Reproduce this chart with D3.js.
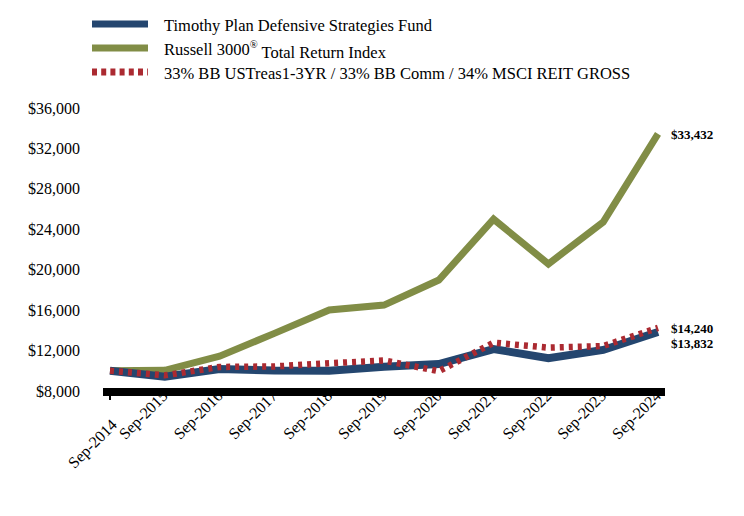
<!DOCTYPE html>
<html>
<head>
<meta charset="utf-8">
<script src="https://cdn.jsdelivr.net/npm/d3@7"></script>
<style>
  html, body { margin: 0; padding: 0; background: #fff; }
  svg text { font-family: "Liberation Serif", "Times New Roman", serif; }
</style>
</head>
<body>
<div id="chart"></div>
<script>
const categories = ["Sep-2014","Sep-2015","Sep-2016","Sep-2017","Sep-2018","Sep-2019","Sep-2020","Sep-2021","Sep-2022","Sep-2023","Sep-2024"];
const fundValues = [10000, 9420, 10170, 10020, 10010, 10400, 10660, 12150, 11240, 12060, 13832];
const russellValues = [10000, 10050, 11450, 13700, 16010, 16500, 18980, 25000, 20570, 24720, 33432];
const blendValues = [10000, 9550, 10380, 10430, 10740, 11020, 9960, 12780, 12290, 12450, 14240];
const yTicks = [8000, 12000, 16000, 20000, 24000, 28000, 32000, 36000];
const seriesNames = ["Timothy Plan Defensive Strategies Fund", "Russell 3000", "33% BB USTreas1-3YR / 33% BB Comm / 34% MSCI REIT GROSS"];
const endLabels = ["$13,832", "$33,432", "$14,240"];

const W = 744, H = 516;
const svg = d3.select("#chart").append("svg").attr("width", W).attr("height", H);

const x = d3.scalePoint().domain(categories).range([110, 658]);
const y = d3.scaleLinear().domain([8000, 36000]).range([391, 108]);

const colors = { fund: "#24466f", russell: "#818d46", blend: "#ab2a31" };

// y axis labels
const fmt = v => "$" + d3.format(",")(v);
svg.append("g").selectAll("text").data(yTicks).join("text")
  .attr("x", 80).attr("y", d => y(d)).attr("dy", "0.35em")
  .attr("text-anchor", "end").attr("font-size", 16).attr("fill", "#000")
  .text(fmt);

// x labels (drawn before axis bar, as in reference)
const xl = svg.append("g");
categories.forEach((c, i) => {
  const px = x(c);
  let tx, ty;
  if (i === 0) { tx = px + 4; ty = 422; }
  else { tx = px; ty = 393; }
  xl.append("text")
    .attr("transform", `translate(${tx},${ty}) rotate(-45)`)
    .attr("text-anchor", "end").attr("dy", "0.35em")
    .attr("font-size", 16).attr("fill", "#000")
    .text(c);
});

// ticks
svg.append("g").selectAll("line").data([categories[0]]).join("line")
  .attr("x1", d => x(d)).attr("x2", d => x(d))
  .attr("y1", 392).attr("y2", 400)
  .attr("stroke", "#000").attr("stroke-width", 2);

// axis bar
svg.append("line")
  .attr("x1", x(categories[0]) - 7).attr("x2", x(categories[categories.length - 1]) + 7)
  .attr("y1", y(8000) + 1).attr("y2", y(8000) + 1)
  .attr("stroke", "#000").attr("stroke-width", 8);

const line = d3.line().x((d, i) => x(categories[i])).y(d => y(d));

svg.append("path").datum(russellValues).attr("d", line)
  .attr("fill", "none").attr("stroke", colors.russell).attr("stroke-width", 7);
svg.append("path").datum(fundValues).attr("d", line)
  .attr("fill", "none").attr("stroke", colors.fund).attr("stroke-width", 8);
svg.append("path").datum(blendValues).attr("d", line)
  .attr("fill", "none").attr("stroke", colors.blend).attr("stroke-width", 6.5)
  .attr("stroke-dasharray", "4,5");

// end labels
const lastX = x(categories[categories.length - 1]) + 13;
const endData = [
  { t: endLabels[1], yy: y(russellValues[10]) },
  { t: endLabels[2], yy: y(blendValues[10]) + 1 },
  { t: endLabels[0], yy: y(fundValues[10]) + 11 }
];
svg.append("g").selectAll("text").data(endData).join("text")
  .attr("x", lastX).attr("y", d => d.yy).attr("dy", "0.35em")
  .attr("font-size", 13).attr("font-weight", "bold").attr("fill", "#000")
  .text(d => d.t);

// legend
const legend = svg.append("g");
const legY = [24, 48, 72];
const legColors = [colors.fund, colors.russell, colors.blend];
legY.forEach((ly, i) => {
  const l = legend.append("line").attr("x1", 92).attr("x2", 148).attr("y1", ly).attr("y2", ly)
    .attr("stroke", legColors[i]).attr("stroke-width", 7);
  if (i === 2) l.attr("stroke-dasharray", "5,4.2");
  const t = legend.append("text").attr("x", 164).attr("y", ly + 1).attr("dy", "0.35em")
    .attr("font-size", 16.5).attr("fill", "#000");
  if (i === 1) {
    t.append("tspan").text("Russell 3000");
    t.append("tspan").attr("font-size", 10.5).attr("dy", "-0.6em").text("®");
    t.append("tspan").attr("dy", "0.6em").text(" Total Return Index");
  } else {
    t.text(seriesNames[i]);
  }
});
</script>
</body>
</html>
